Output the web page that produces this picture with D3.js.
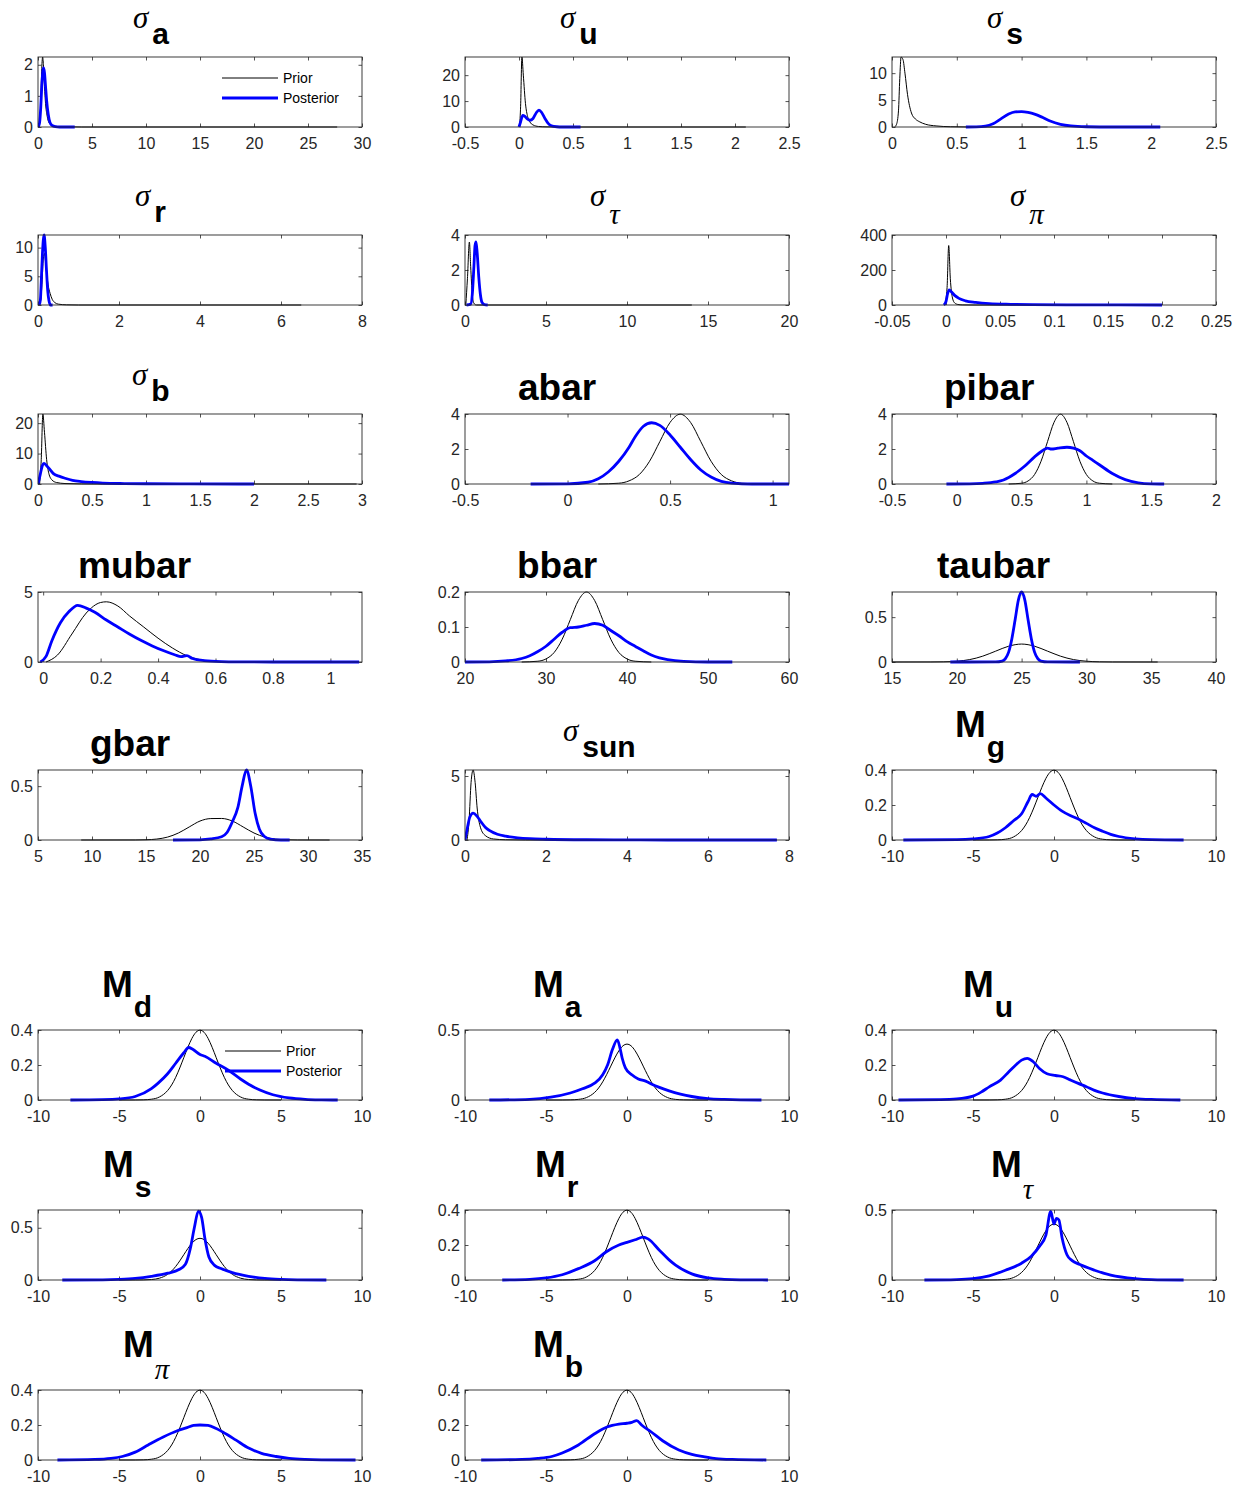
<!DOCTYPE html>
<html>
<head>
<meta charset="utf-8">
<script src="https://cdn.jsdelivr.net/npm/d3@7"></script>
<style>
  body { margin: 0; background: #fff; }
  svg text { font-family: "Liberation Sans", Arial, Helvetica, sans-serif; }
</style>
</head>
<body>
<svg id="chart" width="1242" height="1486"></svg>
<script>
// ---- data: prior / posterior densities ----
var priorSigA = [[0.1,0],[0.2,0.3],[0.3,1.4],[0.38,2.1],[0.43,2.25],[0.5,2.0],[0.6,1.3],[0.7,0.75],[0.85,0.35],[1.0,0.15],[1.3,0.05],[2,0.01],[4,0],[27.7,0]];
var postSigA = [[0.03,0],[0.15,0.15],[0.25,0.6],[0.35,1.3],[0.45,1.8],[0.52,1.9],[0.6,1.75],[0.7,1.3],[0.8,0.85],[0.95,0.4],[1.1,0.15],[1.3,0.05],[1.6,0.01],[2,0],[3.4,0]];

var priorSigU = [[0.005,0],[0.015,8],[0.027,27],[0.04,20],[0.06,9],[0.08,4],[0.1,2],[0.13,0.8],[0.18,0.2],[0.25,0.05],[0.4,0],[2.1,0]];
var postSigU = [[0,0],[0.015,2],[0.035,4.5],[0.055,4.1],[0.08,3.0],[0.1,2.6],[0.13,3.3],[0.16,5.5],[0.185,6.5],[0.21,5.6],[0.24,3.3],[0.27,1.4],[0.3,0.5],[0.35,0.1],[0.4,0],[0.57,0]];

var priorSigS = [[0.02,0],[0.035,0.5],[0.05,3],[0.06,9],[0.07,13],[0.085,12.5],[0.1,10],[0.12,6],[0.15,2.6],[0.18,1.5],[0.21,1.0],[0.26,0.5],[0.34,0.2],[0.45,0.05],[0.6,0],[1.2,0]];
var postSigS = [[0.57,0],[0.65,0.02],[0.72,0.15],[0.78,0.6],[0.84,1.5],[0.9,2.4],[0.95,2.8],[1.0,2.85],[1.05,2.7],[1.1,2.4],[1.16,1.8],[1.22,1.1],[1.3,0.5],[1.38,0.2],[1.5,0.05],[1.7,0],[2.07,0]];

var priorSigR = [[0.03,0],[0.07,1],[0.1,4],[0.13,8],[0.16,9],[0.2,6.5],[0.25,3.5],[0.3,2],[0.35,1.0],[0.42,0.4],[0.5,0.15],[0.7,0.03],[1,0],[6.5,0]];
var postSigR = [[0.03,0],[0.06,1],[0.08,4],[0.11,9],[0.15,12.2],[0.18,10],[0.21,6],[0.24,2.5],[0.27,0.8],[0.31,0],[0.36,0]];

var priorSigTau = [[0.05,0],[0.15,1.5],[0.27,3.6],[0.35,2.2],[0.45,0.6],[0.55,0.1],[0.7,0],[14,0]];
var postSigTau = [[0.1,0],[0.35,0.05],[0.45,0.6],[0.55,2.2],[0.62,3.4],[0.68,3.6],[0.75,3.0],[0.85,1.6],[0.95,0.6],[1.05,0.15],[1.2,0.02],[1.4,0]];

var priorSigPi = [[-0.001,0],[0.001,100],[0.0025,340],[0.004,150],[0.006,40],[0.008,12],[0.011,3],[0.015,0.5],[0.025,0],[0.2,0]];
var postSigPi = [[-0.002,0],[0,20],[0.0015,65],[0.003,86],[0.005,75],[0.008,55],[0.012,38],[0.018,24],[0.0275,15],[0.04,8],[0.06,4],[0.08,2],[0.12,0.8],[0.16,0.3],[0.2,0]];

var priorSigB = [[0.015,0],[0.03,8],[0.045,23],[0.06,17],[0.08,8],[0.1,3.5],[0.13,1.3],[0.17,0.5],[0.25,0.15],[0.4,0.03],[0.6,0],[2.95,0]];
var postSigB = [[0,0],[0.02,3],[0.04,6],[0.055,6.8],[0.08,6],[0.1,5.2],[0.14,3.5],[0.2,2.5],[0.25,1.9],[0.32,1.2],[0.4,0.8],[0.5,0.5],[0.6,0.3],[0.8,0.15],[1,0.08],[1.4,0.03],[2,0]];

var priorAbar = [[0.15,0],[0.25,0.045],[0.3,0.18],[0.35,0.54],[0.4,1.3],[0.45,2.42],[0.5,3.52],[0.55,3.99],[0.6,3.52],[0.65,2.42],[0.7,1.3],[0.75,0.54],[0.8,0.18],[0.85,0.045],[0.95,0]];
var postAbar = [[-0.18,0],[0,0.01],[0.1,0.1],[0.15,0.3],[0.2,0.7],[0.25,1.3],[0.3,2.1],[0.33,2.7],[0.37,3.3],[0.41,3.5],[0.45,3.35],[0.5,2.8],[0.55,2.1],[0.6,1.4],[0.65,0.8],[0.7,0.4],[0.75,0.15],[0.8,0.05],[0.9,0],[1.08,0]];

var priorPibar = [[0.4,0],[0.5,0.044],[0.55,0.175],[0.6,0.54],[0.65,1.3],[0.7,2.42],[0.75,3.52],[0.8,3.99],[0.85,3.52],[0.9,2.42],[0.95,1.3],[1.0,0.54],[1.05,0.175],[1.1,0.044],[1.2,0]];
var postPibar = [[-0.08,0],[0.1,0.01],[0.2,0.04],[0.3,0.12],[0.36,0.23],[0.45,0.6],[0.52,1.0],[0.6,1.55],[0.66,1.9],[0.7,2.05],[0.73,2.0],[0.78,2.05],[0.85,2.1],[0.9,2.05],[0.95,1.9],[1.0,1.6],[1.05,1.35],[1.1,1.1],[1.2,0.6],[1.3,0.25],[1.4,0.07],[1.5,0.01],[1.6,0]];

var priorMubar = [[0.01,0],[0.05,0.5],[0.1,2.0],[0.15,3.5],[0.2,4.25],[0.22,4.3],[0.26,4.0],[0.3,3.3],[0.35,2.5],[0.4,1.7],[0.45,1.0],[0.5,0.45],[0.55,0.15],[0.6,0.04],[0.7,0]];
var postMubar = [[-0.01,0],[0.01,0.4],[0.03,1.5],[0.06,2.8],[0.09,3.6],[0.12,4.05],[0.15,3.85],[0.18,3.55],[0.22,3.0],[0.26,2.5],[0.3,2.0],[0.34,1.55],[0.38,1.15],[0.42,0.8],[0.46,0.5],[0.48,0.38],[0.5,0.45],[0.52,0.25],[0.56,0.1],[0.62,0.03],[0.7,0.01],[0.8,0],[1.1,0]];

var priorBbar = [[27,0],[29,0.0022],[30,0.0088],[31,0.027],[32,0.065],[33,0.121],[34,0.176],[35,0.2],[36,0.176],[37,0.121],[38,0.065],[39,0.027],[40,0.0088],[41,0.0022],[43,0]];
var postBbar = [[20,0],[23,0.0005],[25,0.003],[27,0.01],[28,0.018],[29,0.03],[30,0.045],[31,0.065],[32,0.085],[33,0.098],[34,0.1],[35,0.105],[36,0.11],[37,0.105],[38,0.09],[39,0.075],[40,0.058],[41,0.045],[42,0.032],[43,0.02],[44,0.012],[45,0.007],[47,0.002],[50,0],[53,0]];

var priorTaubar = [[15,0],[18,0.0004],[19,0.0022],[20,0.0088],[21,0.027],[22,0.065],[23,0.121],[24,0.176],[25,0.2],[26,0.176],[27,0.121],[28,0.065],[29,0.027],[30,0.0088],[31,0.0022],[32,0.0004],[35.5,0]];
var postTaubar = [[19.5,0],[23,0.0003],[23.5,0.01],[23.75,0.038],[24,0.11],[24.25,0.26],[24.5,0.47],[24.75,0.69],[25,0.78],[25.25,0.69],[25.5,0.47],[25.75,0.26],[26,0.11],[26.25,0.038],[26.5,0.01],[27,0.0003],[29.5,0]];

var priorGbar = [[9,0],[14,0.0003],[15,0.0022],[16,0.0088],[17,0.027],[18,0.065],[19,0.121],[20,0.176],[21,0.199],[22,0.2],[23,0.176],[24,0.121],[25,0.065],[26,0.027],[27,0.0088],[28,0.0022],[29,0.0004],[32,0]];
var postGbar = [[17.5,0],[20,0.002],[21,0.01],[22,0.03],[22.5,0.07],[23,0.17],[23.5,0.3],[23.9,0.5],[24.3,0.65],[24.7,0.5],[25.1,0.25],[25.5,0.1],[26,0.03],[26.5,0.008],[27.5,0],[28.3,0]];

var priorSigSun = [[0.05,0],[0.1,1.5],[0.15,4.5],[0.2,5.47],[0.25,4.5],[0.3,2.5],[0.38,1.0],[0.5,0.35],[0.7,0.08],[1,0.02],[1.5,0],[7.7,0]];
var postSigSun = [[0,0],[0.05,0.8],[0.12,1.8],[0.2,2.1],[0.3,1.85],[0.4,1.4],[0.5,1.0],[0.6,0.75],[0.8,0.45],[1.0,0.3],[1.3,0.17],[1.6,0.1],[2,0.06],[3,0.02],[4,0.01],[5,0],[7.7,0]];

// standard normal prior shared by all M panels
var priorStdNormal = [[-5,0],[-4,0.0001],[-3.5,0.0009],[-3,0.0044],[-2.5,0.0175],[-2,0.054],[-1.75,0.086],[-1.5,0.1295],[-1.25,0.183],[-1,0.242],[-0.75,0.301],[-0.5,0.352],[-0.25,0.387],[0,0.399],[0.25,0.387],[0.5,0.352],[0.75,0.301],[1,0.242],[1.25,0.183],[1.5,0.1295],[1.75,0.086],[2,0.054],[2.5,0.0175],[3,0.0044],[3.5,0.0009],[4,0.0001],[5,0]];

var postMg = [[-9.3,0],[-6,0.002],[-5,0.006],[-4,0.02],[-3.5,0.04],[-3,0.07],[-2.5,0.11],[-2,0.15],[-1.6,0.22],[-1.35,0.26],[-1.1,0.25],[-0.85,0.265],[-0.5,0.24],[0,0.2],[0.5,0.165],[1,0.14],[1.5,0.12],[2,0.095],[2.5,0.07],[3,0.05],[3.5,0.032],[4,0.02],[5,0.007],[6,0.002],[8,0]];
var postMd = [[-8,0],[-6,0.002],[-5,0.006],[-4,0.02],[-3,0.065],[-2.6,0.095],[-2,0.15],[-1.5,0.21],[-1,0.27],[-0.7,0.3],[-0.45,0.29],[0,0.26],[0.3,0.25],[1,0.21],[1.75,0.17],[2.5,0.12],[3,0.09],[3.7,0.057],[4.5,0.03],[5.5,0.012],[6.5,0.004],[7.5,0.001],[8.5,0]];
var postMa = [[-8.5,0],[-6,0.005],[-4.7,0.02],[-3.5,0.05],[-2.75,0.08],[-2,0.12],[-1.5,0.18],[-1.2,0.25],[-0.9,0.36],[-0.6,0.43],[-0.45,0.38],[-0.3,0.3],[-0.1,0.23],[0.3,0.18],[0.7,0.15],[1.15,0.135],[1.5,0.115],[2,0.09],[2.6,0.065],[3.3,0.042],[4,0.025],[5,0.01],[6,0.004],[7,0.001],[8.3,0]];
var postMu = [[-9.6,0],[-7,0.002],[-6,0.006],[-5,0.022],[-4.5,0.045],[-4,0.075],[-3.3,0.114],[-2.8,0.16],[-2.36,0.2],[-2.0,0.228],[-1.65,0.238],[-1.3,0.22],[-0.9,0.18],[-0.43,0.15],[0.1,0.14],[0.56,0.133],[1,0.115],[1.5,0.095],[2,0.076],[2.5,0.055],[3,0.04],[4,0.02],[5,0.008],[6,0.003],[7.8,0]];
var postMs = [[-8.5,0],[-6,0.002],[-5,0.006],[-4,0.015],[-3,0.035],[-2,0.065],[-1.3,0.1],[-0.9,0.15],[-0.6,0.3],[-0.35,0.5],[-0.1,0.66],[0.1,0.6],[0.3,0.4],[0.55,0.22],[0.9,0.14],[1.3,0.11],[2,0.07],[3,0.035],[4,0.015],[5,0.006],[6,0.002],[7.8,0]];
var postMr = [[-7.7,0],[-6,0.004],[-5,0.012],[-4,0.03],[-3,0.065],[-2,0.11],[-1.3,0.16],[-0.5,0.2],[0,0.215],[0.5,0.23],[1.0,0.245],[1.3,0.235],[2,0.17],[2.6,0.115],[3,0.085],[4,0.035],[5,0.012],[6,0.004],[7,0.001],[8.7,0]];
var postMtau = [[-8,0],[-6,0.003],[-5,0.01],[-4,0.03],[-3,0.07],[-2,0.12],[-1.4,0.17],[-0.9,0.24],[-0.5,0.32],[-0.2,0.49],[0,0.4],[0.15,0.44],[0.3,0.43],[0.5,0.3],[0.8,0.18],[1.1,0.14],[1.6,0.11],[2.5,0.07],[3.5,0.035],[5,0.01],[6,0.003],[8,0]];
var postMpi = [[-8.8,0],[-6.5,0.003],[-5.5,0.009],[-4.8,0.02],[-4,0.045],[-3.2,0.086],[-2.3,0.13],[-1.4,0.167],[-0.8,0.185],[-0.4,0.198],[0,0.2],[0.5,0.198],[1,0.18],[1.4,0.16],[2.2,0.115],[3,0.068],[3.8,0.038],[4.7,0.02],[5.5,0.009],[6.5,0.003],[7.5,0.001],[9.6,0]];
var postMb = [[-9,0],[-6.5,0.003],[-5.5,0.009],[-4.65,0.02],[-4,0.04],[-3,0.086],[-2,0.15],[-1.2,0.19],[-0.5,0.205],[0,0.21],[0.3,0.215],[0.6,0.225],[0.9,0.2],[1.5,0.16],[2.2,0.11],[3.2,0.057],[4,0.032],[4.8,0.018],[5.5,0.008],[6.5,0.003],[8.6,0]];

// titles: [main, subscript]
var titles = [
    ['σ','a'], ['σ','u'], ['σ','s'],
    ['σ','r'], ['σ','τ'], ['σ','π'],
    ['σ','b'], ['abar',''], ['pibar',''],
    ['mubar',''], ['bbar',''], ['taubar',''],
    ['gbar',''], ['σ','sun'], ['M','g'],
    ['M','d'], ['M','a'], ['M','u'],
    ['M','s'], ['M','r'], ['M','τ'],
    ['M','π'], ['M','b']
];

var priors = [priorSigA, priorSigU, priorSigS, priorSigR, priorSigTau, priorSigPi, priorSigB,
    priorAbar, priorPibar, priorMubar, priorBbar, priorTaubar, priorGbar, priorSigSun,
    priorStdNormal, priorStdNormal, priorStdNormal, priorStdNormal, priorStdNormal,
    priorStdNormal, priorStdNormal, priorStdNormal, priorStdNormal];
var posteriors = [postSigA, postSigU, postSigS, postSigR, postSigTau, postSigPi, postSigB,
    postAbar, postPibar, postMubar, postBbar, postTaubar, postGbar, postSigSun,
    postMg, postMd, postMa, postMu, postMs, postMr, postMtau, postMpi, postMb];

var mTicks = [-10,-5,0,5,10];
var xDomains = [[0,30],[-0.5,2.5],[0,2.5],[0,8],[0,20],[-0.05,0.25],[0,3],[-0.5,1.08],[-0.5,2],
    [-0.018,1.11],[20,60],[15,40],[5,35],[0,8],
    [-10,10],[-10,10],[-10,10],[-10,10],[-10,10],[-10,10],[-10,10],[-10,10],[-10,10]];
var xTicks = [[0,5,10,15,20,25,30],[-0.5,0,0.5,1,1.5,2,2.5],[0,0.5,1,1.5,2,2.5],[0,2,4,6,8],
    [0,5,10,15,20],[-0.05,0,0.05,0.1,0.15,0.2,0.25],[0,0.5,1,1.5,2,2.5,3],[-0.5,0,0.5,1],
    [-0.5,0,0.5,1,1.5,2],[0,0.2,0.4,0.6,0.8,1],[20,30,40,50,60],[15,20,25,30,35,40],
    [5,10,15,20,25,30,35],[0,2,4,6,8],
    mTicks, mTicks, mTicks, mTicks, mTicks, mTicks, mTicks, mTicks, mTicks];
var yTops = [2.25, 27, 13, 12.2, 4, 400, 23, 4, 4, 5, 0.2, 0.78, 0.65, 5.47,
    0.4, 0.4, 0.5, 0.4, 0.67, 0.4, 0.5, 0.4, 0.4];
var yTicks = [[0,1,2],[0,10,20],[0,5,10],[0,5,10],[0,2,4],[0,200,400],[0,10,20],[0,2,4],[0,2,4],
    [0,5],[0,0.1,0.2],[0,0.5],[0,0.5],[0,5],
    [0,0.2,0.4],[0,0.2,0.4],[0,0.5],[0,0.2,0.4],[0,0.5],[0,0.2,0.4],[0,0.5],[0,0.2,0.4],[0,0.2,0.4]];

var legendLabels = ['Prior', 'Posterior'];

// ---- layout ----
var colLeft = [38, 465, 892];
var rowTop = [57, 235, 414, 592, 770, 1030, 1210, 1390];
var plotW = 324, plotH = 70;
var titleLeft = [95,95,95, 97,125,118, 94,53,52, 40,52,45, 52,98,63, 64,68,71, 65,70,99, 85,68];
var legendPanels = [0, 15], legendX = [184, 187];
var axisColor = '#262626';
var greek = /[στπ]/;

var svg = d3.select('#chart');

posteriors.forEach(function (post, i) {
    var r = Math.floor(i / 3), c = i % 3;
    var g = svg.append('g').attr('transform', 'translate(' + colLeft[c] + ',' + rowTop[r] + ')');

    var x = d3.scaleLinear().domain(xDomains[i]).range([0, plotW]);
    var y = d3.scaleLinear().domain([0, yTops[i]]).range([plotH, 0]);

    g.append('clipPath').attr('id', 'clip' + i)
        .append('rect').attr('x', 0).attr('y', -2).attr('width', plotW).attr('height', plotH + 4);

    // ticks on all four sides, pointing inward (matlab box style)
    var bottom = g.append('g').attr('transform', 'translate(0,' + plotH + ')')
        .call(d3.axisBottom(x).tickValues(xTicks[i]).tickFormat(function (d) { return String(d); })
            .tickSizeInner(-3.5).tickSizeOuter(0).tickPadding(11));
    var top = g.append('g')
        .call(d3.axisTop(x).tickValues(xTicks[i]).tickFormat('').tickSizeInner(-3.5).tickSizeOuter(0));
    var left = g.append('g')
        .call(d3.axisLeft(y).tickValues(yTicks[i]).tickFormat(function (d) { return String(d); })
            .tickSizeInner(-3.5).tickSizeOuter(0).tickPadding(5));
    var right = g.append('g').attr('transform', 'translate(' + plotW + ',0)')
        .call(d3.axisRight(y).tickValues(yTicks[i]).tickFormat('').tickSizeInner(-3.5).tickSizeOuter(0));

    [bottom, top, left, right].forEach(function (a) {
        a.select('.domain').remove();
        a.selectAll('line').attr('stroke', axisColor).attr('stroke-width', 0.8);
        a.selectAll('text').attr('fill', axisColor).style('font-size', '16px')
            .style('font-family', '"Liberation Sans", Arial, sans-serif');
    });

    var line = d3.line()
        .x(function (d) { return x(d[0]); })
        .y(function (d) { return y(d[1]); })
        .curve(d3.curveMonotoneX);

    var curves = g.append('g').attr('clip-path', 'url(#clip' + i + ')');
    curves.append('path').datum(priors[i]).attr('d', line)
        .attr('fill', 'none').attr('stroke', '#000').attr('stroke-width', 1);
    curves.append('path').datum(post).attr('d', line)
        .attr('fill', 'none').attr('stroke', '#0000ff').attr('stroke-width', 2.8)
        .attr('stroke-linejoin', 'round');

    g.append('rect').attr('width', plotW).attr('height', plotH)
        .attr('fill', 'none').attr('stroke', axisColor).attr('stroke-width', 0.9);

    // title with subscript
    var main = titles[i][0], sub = titles[i][1];
    var hasSub = sub.length > 0;
    var isGreekMain = greek.test(main);
    var t = g.append('text')
        .attr('x', titleLeft[i])
        .attr('y', hasSub ? (isGreekMain ? -29 : -33) : -14)
        .attr('fill', '#000')
        .text(main);
    if (isGreekMain) {
        t.style('font-family', '"Liberation Serif", "DejaVu Serif", serif')
            .style('font-style', 'italic').style('font-size', '31px');
    } else {
        t.style('font-weight', 'bold').style('font-size', '37px');
    }
    if (hasSub) {
        var w = t.node().getComputedTextLength();
        var s = g.append('text')
            .attr('x', titleLeft[i] + w + (isGreekMain ? 4 : 1))
            .attr('y', greek.test(sub) ? -11 : -13)
            .attr('fill', '#000')
            .text(sub);
        if (greek.test(sub)) {
            s.style('font-family', '"Liberation Serif", "DejaVu Serif", serif')
                .style('font-style', 'italic').style('font-size', '29px');
        } else {
            s.style('font-weight', 'bold').style('font-size', '30px');
        }
    }

    // legend (no box)
    var li = legendPanels.indexOf(i);
    if (li >= 0) {
        var lx = legendX[li];
        legendLabels.forEach(function (lab, k) {
            var ly = 21 + k * 20;
            g.append('line').attr('x1', lx).attr('x2', lx + 56).attr('y1', ly).attr('y2', ly)
                .attr('stroke', k === 0 ? '#000' : '#0000ff').attr('stroke-width', k === 0 ? 1 : 2.8);
            g.append('text').attr('x', lx + 61).attr('y', ly + 5)
                .attr('fill', '#000').style('font-size', '14px').text(lab);
        });
    }
});
</script>
</body>
</html>
